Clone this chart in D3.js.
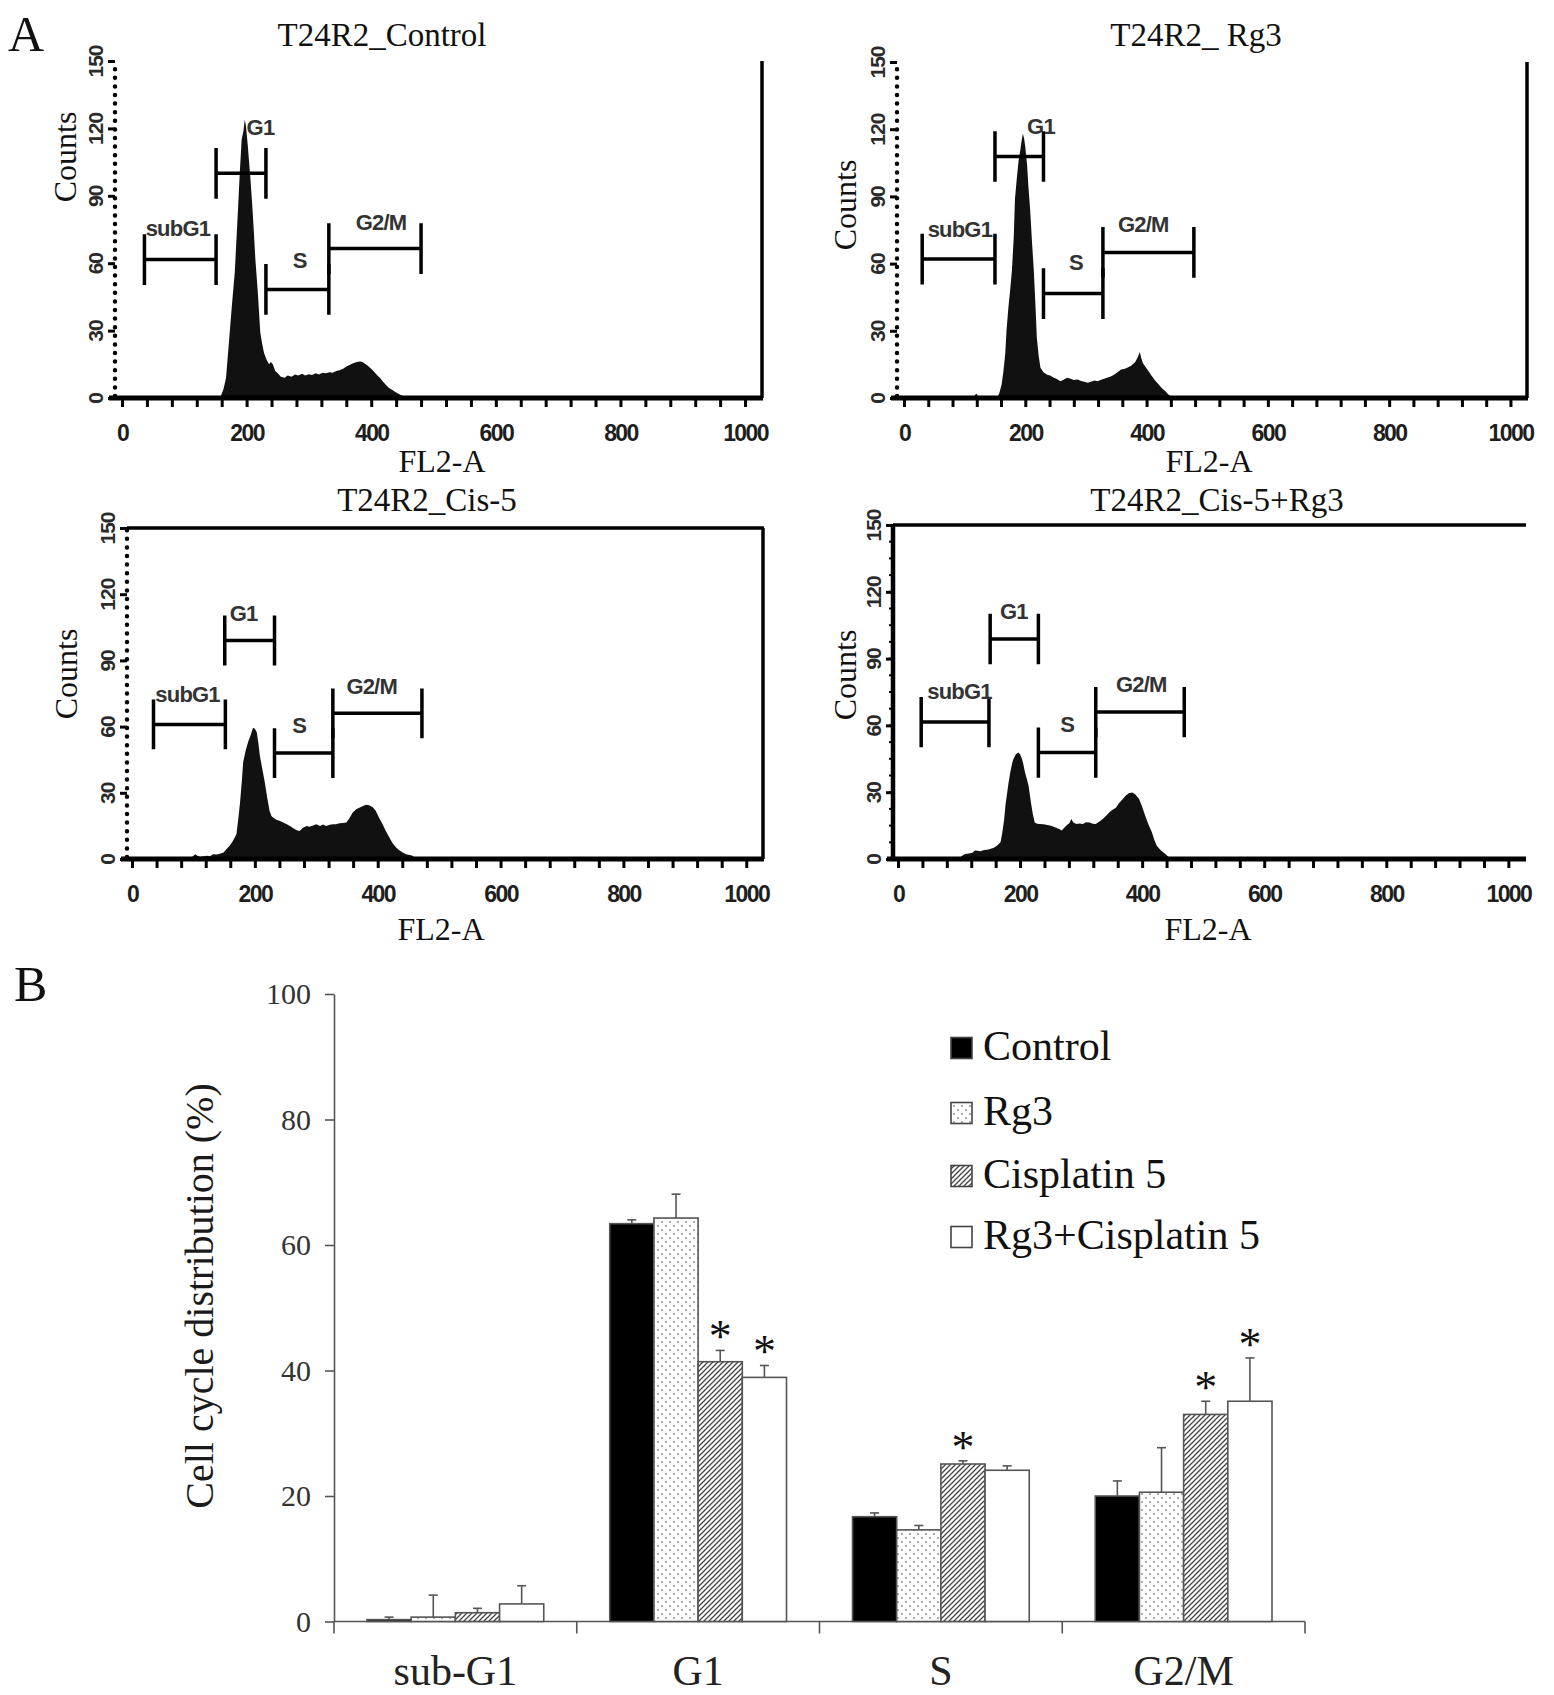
<!DOCTYPE html>
<meta charset="utf-8">
<style>
body{margin:0;background:#fff;}
svg text{font-family:"Liberation Serif","Times New Roman",serif;fill:#111;}
</style>
<svg id="fig" width="1554" height="1695"></svg>
<script src="https://cdn.jsdelivr.net/npm/d3@7/dist/d3.min.js"></script>
<script>
// ---------- panel A : DNA histograms (channel, counts) ----------
var histControl = [[150,0],[158,0.5],[163,4],[167,9],[172,26],[176,40],[181,56],[186,83],[189,100],[192,115],[195,119],[197,124],[199,121],[202,112],[206,98],[209,86],[211,77],[214,62],[218,47],[220,38],[222,29],[225,24],[228,20],[232,17],[236,15],[239,16],[242,15],[246,12],[250,11],[255,9.5],[261,9],[266,10],[272,9.5],[278,10.5],[283,10],[289,10.8],[294,10],[300,10.6],[305,10.2],[311,11],[316,10.5],[322,11.2],[327,11],[333,11.5],[338,11.2],[344,12],[349,12.3],[355,13],[360,14],[366,14.8],[371,15.5],[377,16],[382,16.3],[386,16],[390,15.2],[394,14.5],[398,13.5],[402,12.5],[406,11.2],[410,10],[414,9],[418,7.6],[423,6],[428,4.6],[434,3.6],[438,2.8],[443,2],[448,1.2],[454,0.6],[460,0]];
var histRg3 = [[110,0],[115,0.5],[119,2],[123,0.5],[127,0],[153,0],[157,2],[161,6],[164,12],[167,20],[169,30],[172,40],[175,48],[178,57],[181,72],[183,89],[186,98],[189,106],[192,111],[194,115],[196,118],[198,116],[200,112],[203,104],[205,95],[208,84],[211,70],[214,57],[217,40],[219,27],[222,19],[225,13.5],[230,11.5],[236,10.4],[241,10],[247,9],[252,8.5],[258,7.5],[263,8.2],[269,9],[275,8.6],[280,8],[286,8.3],[292,7.6],[297,7.2],[303,6.8],[308,7.2],[314,7.8],[319,7.5],[325,8.2],[330,8.6],[336,9.2],[341,9.6],[347,10.5],[352,11.5],[358,12.7],[363,13],[369,13.6],[375,14.5],[381,16],[385,18],[389,20.5],[391,18],[394,15.5],[398,14],[403,12],[408,10],[414,7.8],[420,6],[425,4.5],[431,3],[436,1.6],[440,0.8],[444,0]];
var histCis = [[95,0],[100,1.5],[103,2.2],[107,1.4],[111,1],[116,1.2],[122,1.5],[127,1.3],[132,2.2],[138,2],[143,2.4],[149,3],[154,4.5],[159,6],[164,8],[170,11.2],[173,18],[176,26],[179,36],[181,44],[185,49],[189,53],[193,56],[197,59.5],[200,59],[203,57.5],[206,52],[208,47],[212,41],[216,35],[220,28],[224,21.7],[227,19.5],[230,18.7],[235,17.8],[241,17.2],[246,16.5],[252,15.8],[257,15],[262,14],[268,13],[273,12.7],[278,14],[284,15],[289,14.6],[295,15.2],[300,15.7],[306,15],[311,15.6],[316,15],[322,15.5],[327,15.7],[332,15.8],[338,16.2],[343,16.3],[349,16.5],[354,18.5],[359,21],[365,22.5],[370,23.2],[376,24],[381,24.6],[386,24.4],[392,23.5],[397,21.7],[402,18.8],[408,15.7],[413,12.8],[419,9.7],[424,7.2],[430,5.2],[435,4],[441,3],[446,2.2],[452,1.8],[457,1.5],[462,0]];
var histCisRg3 = [[100,0],[105,1.5],[110,2.2],[116,2.5],[122,2.8],[126,3.8],[130,3.7],[135,3.5],[141,4],[146,4.2],[151,4.5],[157,5],[162,6],[168,7.5],[171,12],[174,18],[176,24],[179,30],[181,34],[184,39],[187,43],[189,44.8],[193,47],[197,47.8],[200,47],[203,45],[205,43],[208,39],[211,36],[214,32.8],[218,25],[221,20],[224,16.4],[228,15.8],[232,15.7],[238,15.6],[243,15.4],[249,15],[254,14.6],[259,14],[265,13.4],[268,12.8],[270,13.4],[276,15],[281,16.2],[284,18],[287,16.5],[292,15.7],[297,15.9],[303,15.7],[308,16.5],[314,16.4],[319,15.8],[324,15.7],[330,16.8],[335,17.9],[341,19.4],[346,20.9],[351,22],[357,23],[362,25],[368,26.8],[373,28.4],[378,29.5],[384,29.9],[389,29],[395,26.9],[400,23.5],[405,19.4],[410,15.7],[416,12],[420,8.5],[424,6],[430,4],[438,2.2],[443,1],[449,0]];

// gates: [name, from channel, to channel, count level, label start channel, label count level]
var gatesControl = [["subG1",36,151,61.6,38,72],["G1",151,231,100,200,117],["S",231,332,48.3,274,58],["G2/M",332,480,66.5,375,75]];
var gatesRg3 = [["subG1",30,150,62,39,72],["G1",150,230,107.8,203,118],["S",230,328,46.6,272,57],["G2/M",328,478,65,353,74]];
var gatesCis = [["subG1",35,152,61,38,71],["G1",151,232,99,159,108],["S",232,327,48,261,57],["G2/M",327,472,66,349,75]];
var gatesCisRg3 = [["subG1",38,149,61.5,48,72],["G1",151,230,98.8,167,108],["S",230,324,47.8,266,57],["G2/M",324,469,66,357,75]];

var panelTitles = ["T24R2_Control","T24R2_ Rg3","T24R2_Cis-5","T24R2_Cis-5+Rg3"];
var countTicks = [0,30,60,90,120,150];
var channelTicks = d3.range(0,1001,40);

// ---------- panel B : cell cycle distribution (%) ----------
var phases = ["sub-G1","G1","S","G2/M"];
var groups = ["Control","Rg3","Cisplatin 5","Rg3+Cisplatin 5"];
var meanControl = [0.3,63.4,16.7,20.0];
var meanRg3 = [0.7,64.3,14.6,20.6];
var meanCis = [1.4,41.4,25.1,33.0];
var meanCombo = [2.8,38.9,24.1,35.1];
var sdControl = [0.4,0.6,0.6,2.4];
var sdRg3 = [3.5,3.8,0.7,7.1];
var sdCis = [0.7,1.8,0.5,2.1];
var sdCombo = [2.9,1.9,0.7,6.9];
var starCis = [false,true,true,true];
var starCombo = [false,true,false,true];
var pctTicks = [0,20,40,60,80,100];

var svg = d3.select("#fig");
var defs = svg.append("defs");
var pd = defs.append("pattern").attr("id","dots").attr("width",8).attr("height",8).attr("patternUnits","userSpaceOnUse");
pd.append("rect").attr("width",8).attr("height",8).attr("fill","#fff");
pd.append("circle").attr("cx",2).attr("cy",2).attr("r",0.9).attr("fill","#888");
pd.append("circle").attr("cx",6).attr("cy",6).attr("r",0.9).attr("fill","#888");
var ph = defs.append("pattern").attr("id","hatch").attr("width",5).attr("height",5).attr("patternUnits","userSpaceOnUse");
ph.append("rect").attr("width",5).attr("height",5).attr("fill","#fff");
ph.append("path").attr("d","M-1,1 l2,-2 M0,5 l5,-5 M4,6 l2,-2").attr("stroke","#444").attr("stroke-width",1.3);

// layout of the four cytometry plots
var layout = [
	{xL:122, xR:760, yB:398, yT:61, ax:115, top:false, right:true, dotted:true,
	 tx:382, ty:46, cx:76, cy:157, fx:442, fy:472},
	{xL:904, xR:1525, yB:398, yT:62, ax:897, top:false, right:true, dotted:true,
	 tx:1196, ty:46, cx:856, cy:205, fx:1209, fy:472},
	{xL:132, xR:761, yB:859, yT:528, ax:127, top:true, right:true, dotted:true,
	 tx:427, ty:511, cx:77, cy:674, fx:441, fy:940},
	{xL:898, xR:1523, yB:859, yT:525, ax:893, top:true, right:false, dotted:false,
	 tx:1217, ty:511, cx:856, cy:675, fx:1208, fy:940}
];
var hists = [histControl, histRg3, histCis, histCisRg3];
var gateSets = [gatesControl, gatesRg3, gatesCis, gatesCisRg3];

var sans = "'Liberation Sans', Arial, sans-serif";

layout.forEach(function(p, i){
	var g = svg.append("g");
	var x = d3.scaleLinear().domain([0,1024]).range([p.xL, p.xR]);
	var y = d3.scaleLinear().domain([0,150]).range([p.yB, p.yT]);

	g.append("path").datum(hists[i])
		.attr("d", d3.area().x(function(d){ return x(d[0]); }).y0(y(0)).y1(function(d){ return y(d[1]); }))
		.attr("fill","#111");

	// x axis
	var xa = g.append("g").attr("transform","translate(0,"+p.yB+")")
		.call(d3.axisBottom(x).tickValues(channelTicks).tickSize(9).tickSizeOuter(0)
			.tickFormat(function(v){ return v % 200 === 0 ? v : ""; }));
	xa.select(".domain").remove();
	xa.selectAll(".tick line").attr("stroke","#000").attr("stroke-width",3);
	xa.selectAll(".tick text").attr("y",43).attr("dy",0)
		.style("font-family",sans).style("font-weight","bold").style("font-size","23px")
		.style("letter-spacing","-1.6px").style("fill","#1e1e1e");
	g.append("line").attr("x1",p.ax-6).attr("x2",p.xR+3).attr("y1",p.yB).attr("y2",p.yB)
		.attr("stroke","#000").attr("stroke-width",5);

	// y axis
	var ya = g.append("g").attr("transform","translate("+p.ax+",0)")
		.call(d3.axisLeft(y).tickValues(countTicks).tickSize(7).tickSizeOuter(0).tickFormat(""));
	ya.select(".domain").remove();
	ya.selectAll(".tick line").attr("stroke","#000").attr("stroke-width",3);
	ya.selectAll(".tick").append("text").text(function(d){ return d; })
		.attr("transform","translate(-12,0) rotate(-90)").attr("text-anchor","middle")
		.style("font-family",sans).style("font-weight","bold").style("font-size","21px")
		.style("letter-spacing","-1px").style("fill","#2a2a2a");
	if (p.dotted) {
		g.append("line").attr("x1",p.ax).attr("x2",p.ax).attr("y1",p.yB-2).attr("y2",p.yT)
			.attr("stroke","#000").attr("stroke-width",4.5).attr("stroke-linecap","round")
			.attr("stroke-dasharray","0 8.6");
	} else {
		g.append("line").attr("x1",p.ax).attr("x2",p.ax).attr("y1",p.yB).attr("y2",p.yT)
			.attr("stroke","#000").attr("stroke-width",4.5);
		g.selectAll(".minor").data(d3.range(0,151,7.5)).enter().append("line")
			.attr("x1",p.ax-4).attr("x2",p.ax).attr("y1",function(d){ return y(d); }).attr("y2",function(d){ return y(d); })
			.attr("stroke","#000").attr("stroke-width",2);
	}

	// frame
	if (p.right) g.append("line").attr("x1",p.xR+2).attr("x2",p.xR+2).attr("y1",p.yT).attr("y2",p.yB)
		.attr("stroke","#000").attr("stroke-width",3.5);
	if (p.top) g.append("line").attr("x1",p.ax).attr("x2",p.xR+3).attr("y1",p.yT).attr("y2",p.yT)
		.attr("stroke","#000").attr("stroke-width",3.5);

	// gates
	var half = y(0) - y(11.3);
	gateSets[i].forEach(function(gt){
		var yy = y(gt[3]);
		g.append("path")
			.attr("d","M"+x(gt[1])+","+yy+"H"+x(gt[2])+
				"M"+x(gt[1])+","+(yy-half)+"V"+(yy+half)+
				"M"+x(gt[2])+","+(yy-half)+"V"+(yy+half))
			.attr("stroke","#000").attr("stroke-width",3.5).attr("fill","none");
		g.append("text").text(gt[0]).attr("x",x(gt[4])).attr("y",y(gt[5]))
			.style("font-family",sans).style("font-weight","bold").style("font-size","22px")
			.style("letter-spacing","-0.8px").style("fill","#333");
	});

	g.append("text").text(panelTitles[i]).attr("x",p.tx).attr("y",p.ty)
		.attr("text-anchor","middle").style("font-size","33px");
	g.append("text").text("Counts").attr("text-anchor","middle")
		.attr("transform","translate("+p.cx+","+p.cy+") rotate(-90)").style("font-size","32px");
	g.append("text").text("FL2-A").attr("x",p.fx).attr("y",p.fy)
		.attr("text-anchor","middle").style("font-size","32px");
});

svg.append("text").text("A").attr("x",8).attr("y",51).style("font-size","50px");
svg.append("text").text("B").attr("x",14).attr("y",1001).style("font-size","50px");

// ---------- panel B ----------
var means = [meanControl, meanRg3, meanCis, meanCombo];
var sds = [sdControl, sdRg3, sdCis, sdCombo];
var stars = [null, null, starCis, starCombo];
var fills = ["#000","url(#dots)","url(#hatch)","#fff"];

var x0 = d3.scaleBand().domain(phases).range([334,1305]);
var x1 = d3.scaleBand().domain(groups).range([33, x0.bandwidth()-33]);
var y = d3.scaleLinear().domain([0,100]).range([1621.5, 994]);

var gb = svg.append("g");
var ya = gb.append("g").attr("transform","translate(334,0)")
	.call(d3.axisLeft(y).tickValues(pctTicks).tickSize(9).tickSizeOuter(0).tickPadding(14));
ya.select(".domain").attr("stroke","#555").attr("stroke-width",1.6);
ya.selectAll(".tick line").attr("stroke","#555").attr("stroke-width",1.6);
ya.selectAll(".tick text").style("font-family","'Liberation Serif', serif").style("font-size","30px").style("fill","#333");

gb.append("line").attr("x1",334).attr("x2",1305).attr("y1",y(0)).attr("y2",y(0))
	.attr("stroke","#555").attr("stroke-width",1.6);
gb.selectAll(".bnd").data(d3.range(phases.length+1)).enter().append("line")
	.attr("x1",function(d){ return 334 + d*x0.bandwidth(); })
	.attr("x2",function(d){ return 334 + d*x0.bandwidth(); })
	.attr("y1",y(0)).attr("y2",y(0)+12).attr("stroke","#555").attr("stroke-width",1.6);
gb.selectAll(".cat").data(phases).enter().append("text").text(function(d){ return d; })
	.attr("x",function(d){ return x0(d)+x0.bandwidth()/2; }).attr("y",1685)
	.attr("text-anchor","middle").style("font-size","42px").style("fill","#222");

gb.append("text").text("Cell cycle distribution (%)").attr("text-anchor","middle")
	.attr("transform","translate(213,1296) rotate(-90)").style("font-size","40px").style("fill","#1a1a1a");

groups.forEach(function(grp, k){
	var sg = gb.append("g");
	phases.forEach(function(ph, j){
		var bx = x0(ph) + x1(grp), bw = x1.bandwidth(), cx = bx + bw/2;
		var top = y(means[k][j] + sds[k][j]);
		sg.append("line").attr("x1",cx).attr("x2",cx).attr("y1",y(means[k][j])).attr("y2",top)
			.attr("stroke","#555").attr("stroke-width",1.6);
		sg.append("line").attr("x1",cx-4.5).attr("x2",cx+4.5).attr("y1",top).attr("y2",top)
			.attr("stroke","#555").attr("stroke-width",1.6);
		sg.append("rect").attr("x",bx).attr("y",y(means[k][j])).attr("width",bw)
			.attr("height",y(0)-y(means[k][j])).attr("fill",fills[k])
			.attr("stroke","#555").attr("stroke-width",1.6);
		if (stars[k] && stars[k][j]) {
			sg.append("text").text("*").attr("x",cx).attr("y",top+2).attr("text-anchor","middle")
				.style("font-size","46px").style("fill","#111");
		}
	});
});

// legend
var legY = [1048,1113,1176,1237];
groups.forEach(function(grp, k){
	gb.append("rect").attr("x",951).attr("y",legY[k]-10.5).attr("width",21).attr("height",21)
		.attr("fill",fills[k]).attr("stroke","#444").attr("stroke-width",1.6);
	gb.append("text").text(grp).attr("x",983).attr("y",legY[k]+12)
		.style("font-size","42px").style("fill","#111");
});
</script>
